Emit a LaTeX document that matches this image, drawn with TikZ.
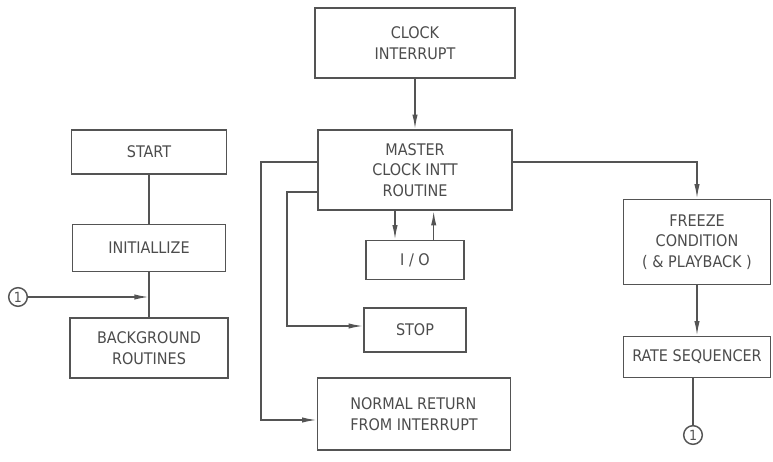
\documentclass[tikz,border=0pt]{standalone}
\usepackage{fontspec}
\setmainfont{DejaVu Sans Condensed}
\usetikzlibrary{arrows.meta}

\tikzset{every picture/.style={line width=0.75pt}}
\definecolor{ink}{rgb}{0.33,0.33,0.33}
\tikzset{
  blk/.style={draw=ink,line width=1.2pt,text=ink!90!black,align=center,inner sep=2pt,
    font=\fontsize{12}{15.5}\selectfont},
  sz/.style 2 args={minimum width=#1*0.75pt,minimum height=#2*0.75pt},
  flow/.style={draw=ink,line width=1.1pt,-{Latex[length=11pt,width=4pt]}},
  link/.style={draw=ink,line width=1.1pt},
  conn/.style={draw=ink,line width=1.1pt,circle,minimum size=14pt,inner sep=0pt,text=ink,
    font=\fontsize{10.5}{10.5}\selectfont}
}

\begin{document}
\begin{tikzpicture}[x=0.75pt,y=0.75pt,yscale=-1,xscale=1]
\useasboundingbox (0,0) rectangle (773,461);

%Shape: Rectangle [id:start]
\node[blk,sz={155}{44}] (start) at (149,152) {START};
%Shape: Rectangle [id:init]
\node[blk,sz={153}{47}] (init) at (149,248) {INITIALLIZE};
%Shape: Rectangle [id:bg]
\node[blk,sz={158}{60}] (bg) at (149,348) {BACKGROUND\\ROUTINES};
%Shape: Circle [id:cin]
\node[conn] (cin) at (18,297) {1};

%Shape: Rectangle [id:clock]
\node[blk,sz={200}{70}] (clock) at (415,43) {CLOCK\\INTERRUPT};
%Shape: Rectangle [id:master]
\node[blk,sz={194}{80}] (master) at (415,170) {MASTER\\CLOCK INTT\\ROUTINE};
%Shape: Rectangle [id:io]
\node[blk,sz={98}{39}] (io) at (415,260) {I / O};
%Shape: Rectangle [id:stop]
\node[blk,sz={102}{44}] (stop) at (415,330) {STOP};
%Shape: Rectangle [id:ret]
\node[blk,sz={193}{72},align=left] (ret) at (414,414) {NORMAL RETURN\\FROM INTERRUPT};
%Shape: Rectangle [id:freeze]
\node[blk,sz={147}{85}] (freeze) at (697,242) {FREEZE\\CONDITION\\( \& PLAYBACK )};
%Shape: Rectangle [id:rate]
\node[blk,sz={147}{41}] (rate) at (697,357) {RATE SEQUENCER};
%Shape: Circle [id:cout]
\node[conn] (cout) at (693,435) {1};

%Straight Lines: left column
\draw[link] (start) -- (init);
\draw[link] (init) -- (bg);
\coordinate (join) at (init.south |- cin);
\draw[flow] (cin) -- (join);

%Straight Lines: main routine (yshift is flipped by yscale=-1)
\draw[flow] (clock) -- (master);
\draw[flow] ([xshift=-15pt]master.south) -- ([xshift=-15pt]io.north);
\draw[flow] ([xshift=14pt]io.north) -- ([xshift=14pt]master.south);
\draw[flow] ([yshift=16.5pt]master.west) -- ++(-30,0) |- ([yshift=-3pt]stop.west);
\draw[flow] ([yshift=-6pt]master.west) -- ++(-56,0) |- ([yshift=4.5pt]ret.west);
\draw[flow] ([yshift=-6pt]master.east) -| (freeze.north);
\draw[flow] (freeze) -- (rate);
\draw[link] ([xshift=-3pt]rate.south) -- (cout);

\end{tikzpicture}
\end{document}
